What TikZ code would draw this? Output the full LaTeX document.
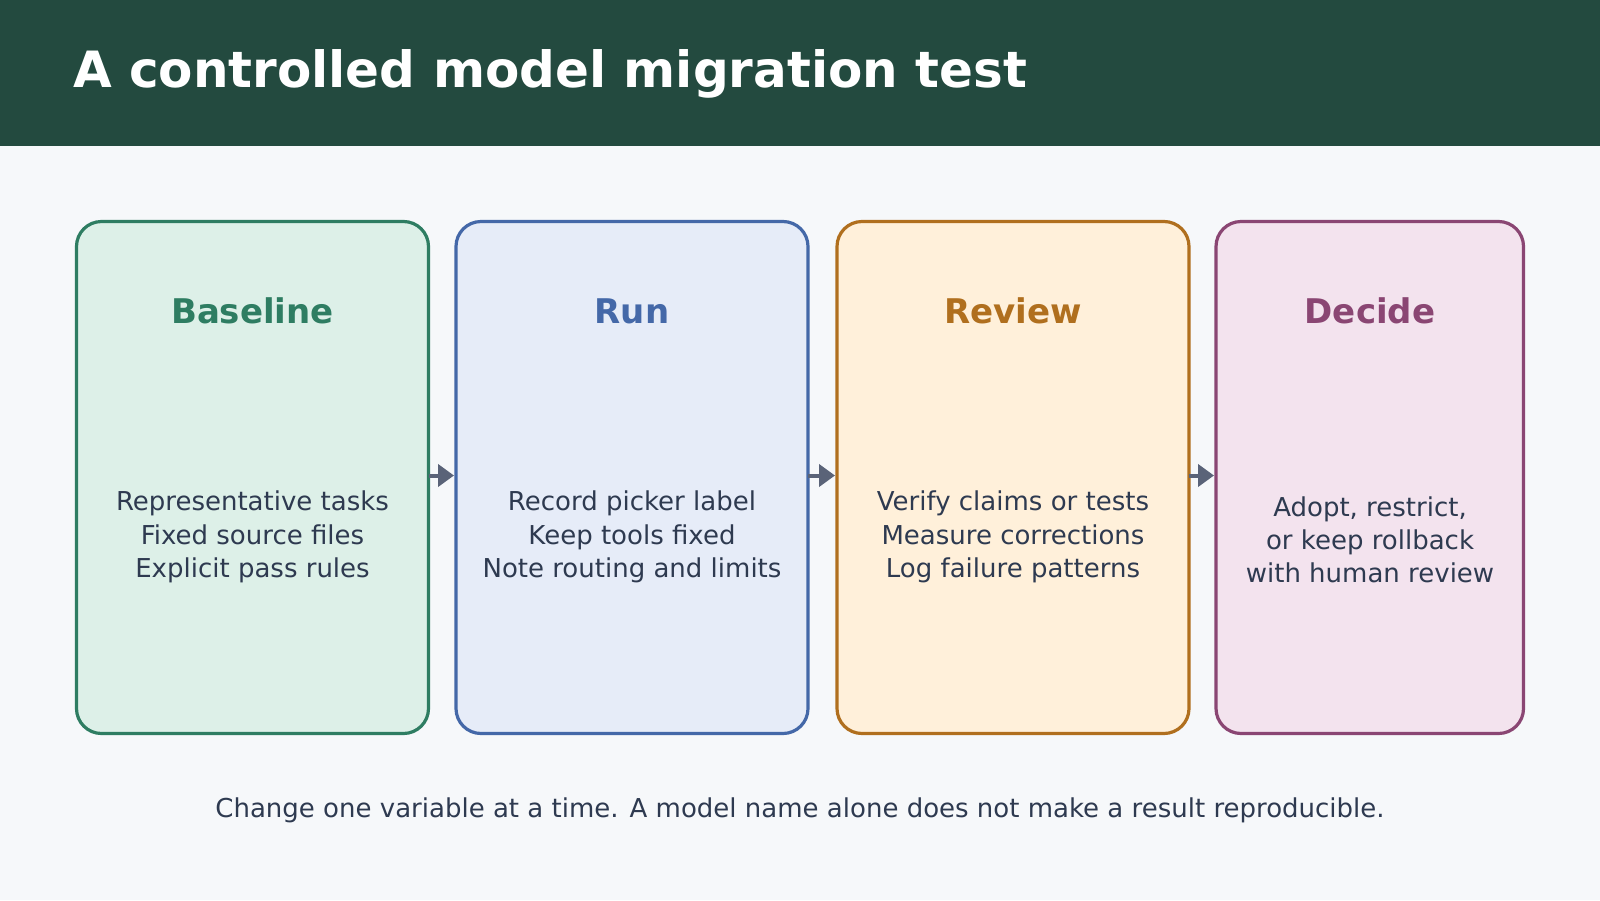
\documentclass[tikz,border=0pt]{standalone}
\usepackage{fontspec}
\setmainfont{DejaVu Sans}
\usetikzlibrary{arrows.meta}
\definecolor{hdr}{HTML}{234A3F}
\definecolor{bg}{HTML}{F6F8FA}
\definecolor{txt}{HTML}{2E3A50}
\definecolor{arr}{HTML}{5A6378}
\definecolor{gS}{HTML}{2E7D62}\definecolor{gF}{HTML}{DDF0E8}
\definecolor{bS}{HTML}{4468A8}\definecolor{bF}{HTML}{E6ECF8}
\definecolor{oS}{HTML}{B06F1E}\definecolor{oF}{HTML}{FFF0DA}
\definecolor{pS}{HTML}{8A4673}\definecolor{pF}{HTML}{F3E3EE}
\begin{document}
\begin{tikzpicture}[x=0.5pt,y=-0.5pt,
 card/.style={draw=#1S,fill=#1F,line width=1.6pt,rounded corners=12.5pt},
 ttl/.style={font=\bfseries\fontsize{17}{20}\selectfont,text=#1S},
 body/.style={font=\fontsize{13}{16.6}\selectfont,text=txt,align=center},
 arrow/.style={draw=arr,line width=2pt,-{Triangle[length=8pt,width=11pt]},shorten >=1pt}]
\useasboundingbox (0,0) rectangle (1600,900);
\fill[bg] (0,0) rectangle (1600,900);
\fill[hdr] (0,0) rectangle (1600,146);
\node[anchor=west,text=white,font=\bfseries\fontsize{25}{30}\selectfont] (title) at (66,74) {A controlled model migration test};
\path[card=g] (76.5,221.5) rectangle (428.5,733.5) node[pos=0,anchor=north west,minimum width=0,inner sep=0] (b1tl) {};
\path[card=b] (456,221.5) rectangle (808,733.5);
\path[card=o] (837,221.5) rectangle (1189,733.5);
\path[card=p] (1216,221.5) rectangle (1523.5,733.5);
\coordinate (b1) at (428.5,475.5); \coordinate (b2) at (456,475.5);
\coordinate (b2e) at (808,475.5); \coordinate (b3) at (837,475.5);
\coordinate (b3e) at (1189,475.5); \coordinate (b4) at (1216,475.5);
\draw[arrow] (b1) -- (b2);
\draw[arrow] (b2e) -- (b3);
\draw[arrow] (b3e) -- (b4);
\node[ttl=g] (t1) at (252.5,311) {Baseline};
\node[ttl=b] (t2) at (632,311) {Run};
\node[ttl=o] (t3) at (1013,311) {Review};
\node[ttl=p] (t4) at (1370,311) {Decide};
\node[body] (d1) at (252.5,537) {Representative tasks\\Fixed source files\\Explicit pass rules};
\node[body] (d2) at (632,537) {Record picker label\\Keep tools fixed\\Note routing and limits};
\node[body] (d3) at (1013,537) {Verify claims or tests\\Measure corrections\\Log failure patterns};
\node[body] (d4) at (1370,540) {Adopt, restrict,\\or keep rollback\\with human review};
\node[font=\fontsize{13}{16}\selectfont,text=txt] (foot) at (800,810) {Change one variable at a time. A model name alone does not make a result reproducible.};
\end{tikzpicture}
\end{document}
